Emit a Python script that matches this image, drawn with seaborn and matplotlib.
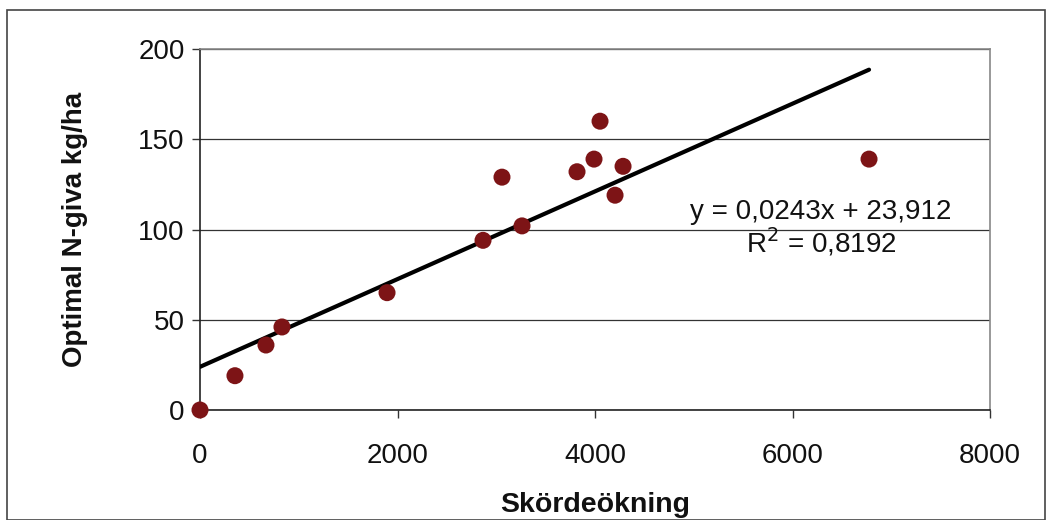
import numpy as np
import pandas as pd
import matplotlib
matplotlib.use("Agg")
import matplotlib.pyplot as plt
import seaborn as sns
from matplotlib.patches import Rectangle

x_vals = [0, 354, 668, 830, 1894, 2866, 3058, 3261, 3818, 3990, 4051, 4203, 4284, 6775]
y_vals = [0, 19, 36, 46, 65, 94, 129, 102, 132, 139, 160, 119, 135, 139]
slope = 0.0243
intercept = 23.912
r2_text = "0,8192"
x_ticks = [0, 2000, 4000, 6000, 8000]
y_ticks = [0, 50, 100, 150, 200]

sns.set_theme(style="white")
plt.rcParams['font.family'] = ['Liberation Sans', 'DejaVu Sans']

fig = plt.figure(figsize=(10.52, 5.2), dpi=100)
ax = fig.add_axes([200/1052, 1-410/520, 790/1052, 361/520])

df = pd.DataFrame({"x": x_vals, "y": y_vals})
xl = np.array([min(x_vals), max(x_vals)])
line_df = pd.DataFrame({"x": xl, "y": slope*xl + intercept})

sns.lineplot(data=line_df, x="x", y="y", ax=ax, color="black", linewidth=3, zorder=3)
sns.scatterplot(data=df, x="x", y="y", ax=ax, color="#7d1416", s=150,
                edgecolor="none", zorder=4, clip_on=False)

ax.set_xlim(0, 8000)
ax.set_ylim(0, 200)
ax.set_xticks(x_ticks)
ax.set_yticks(y_ticks)
ax.yaxis.grid(True, color="#333333", linewidth=0.9)
ax.xaxis.grid(False)
ax.tick_params(axis="both", which="major", labelsize=20, length=6, width=1,
               color="#333333", direction="out", left=True, bottom=True,
               labelcolor="#111111")
ax.tick_params(axis="x", pad=18)
ax.tick_params(axis="y", pad=5)

for s in ["left", "bottom"]:
    ax.spines[s].set_color("#222222")
    ax.spines[s].set_linewidth(1.2)
for s in ["right", "top"]:
    ax.spines[s].set_color("#888888")
    ax.spines[s].set_linewidth(1.2)

ax.set_xlabel("Skördeökning", fontsize=20.5, fontweight="bold", labelpad=16, color="#111111")
ax.set_ylabel("Optimal N-giva kg/ha", fontsize=20, fontweight="bold", labelpad=36, color="#111111")

fig.text(821/1052, 1-212/520,
         f"y = {str(slope).replace('.', ',')}x + {str(intercept).replace('.', ',')}",
         fontsize=20, ha="center", va="center", color="#111111")
fig.text(821/1052, 1-242/520, r"R$^2$ = " + r2_text, fontsize=20, ha="center", va="center",
         color="#111111")

# figure frame
fig.patches.append(Rectangle((7/1052, 0), 1038/1052, 1-10/520, transform=fig.transFigure,
                             fill=False, edgecolor="#444444", linewidth=1.2))

fig.savefig("out.png", dpi=100)
